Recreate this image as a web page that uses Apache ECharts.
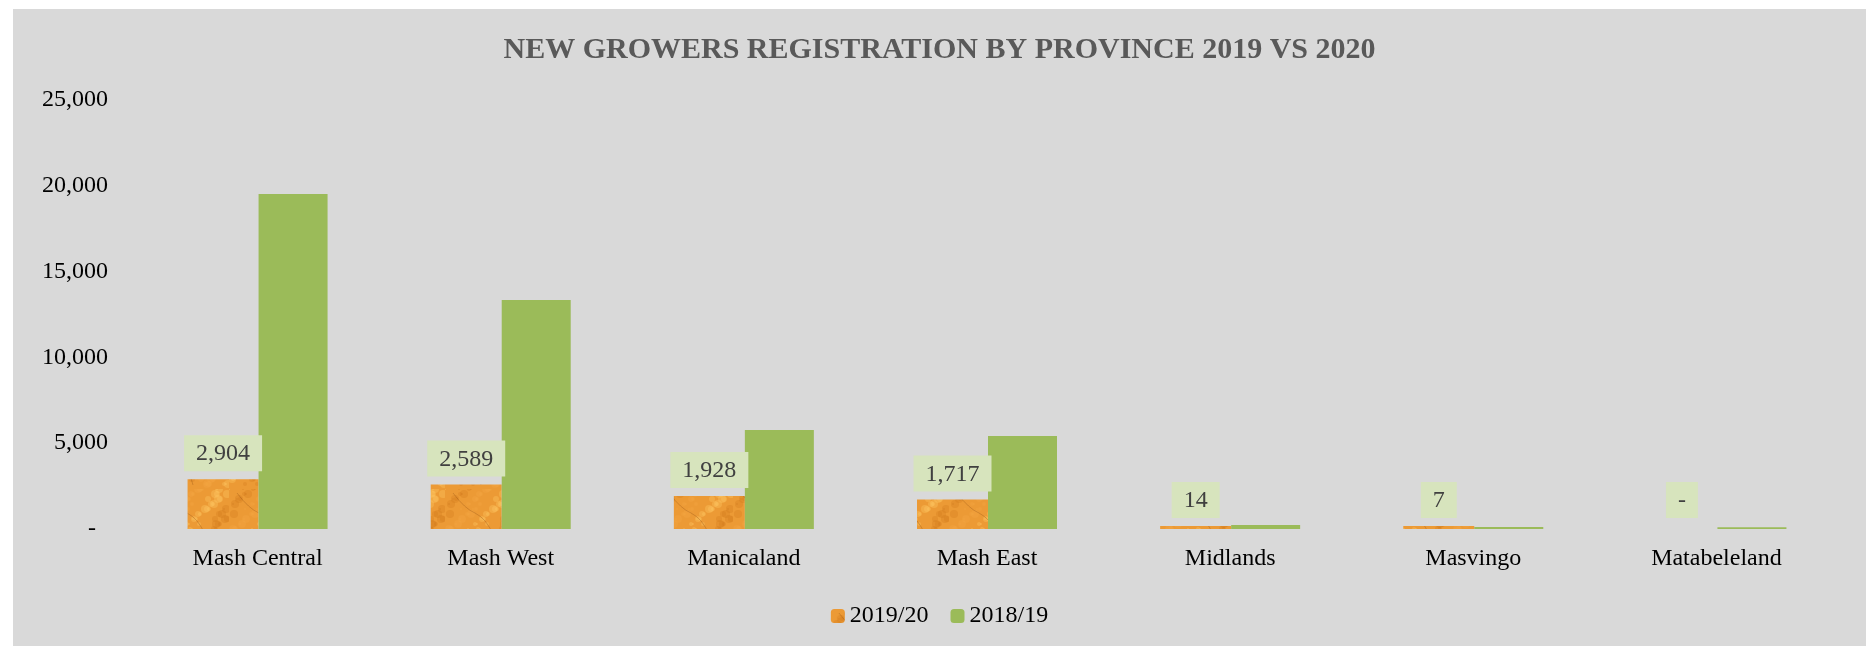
<!DOCTYPE html>
<html>
<head>
<meta charset="utf-8">
<title>New growers registration by province</title>
<script src="https://cdn.jsdelivr.net/npm/echarts@6/dist/echarts.min.js"></script>
<style>
  html, body { margin: 0; padding: 0; background: #fff; }
  #chart {
    position: absolute;
    left: 13px;
    top: 9px;
    width: 1853px;
    height: 637px;
    background: #d9d9d9;
  }
</style>
</head>
<body>
<div id="chart"></div>
<script>
const provinces = ['Mash Central', 'Mash West', 'Manicaland', 'Mash East', 'Midlands', 'Masvingo', 'Matabeleland'];
const growers2020 = [2904, 2589, 1928, 1717, 14, 7, 0];
const growers2019 = [19520, 13350, 5770, 5420, 230, 120, 100];
const yTicks = [0, 5000, 10000, 15000, 20000, 25000];

const FONT = "'Liberation Serif', 'DejaVu Serif', serif";

// orange "tobacco leaf" style texture for the 2019/20 bars
function makeLeafTexture() {
  const c = document.createElement('canvas');
  c.width = 72;
  c.height = 160;
  const ctx = c.getContext('2d');
  ctx.fillStyle = '#ec9a35';
  ctx.fillRect(0, 0, c.width, c.height);
  // mottled light / dark flecks
  for (let i = 0; i < 260; i++) {
    const x = (i * 29 + (i % 7) * 11) % c.width;
    const y = (i * 47 + (i % 5) * 13) % c.height;
    const r = 1 + (i % 4);
    ctx.fillStyle = i % 3 === 0 ? 'rgba(255,200,100,0.35)'
      : i % 3 === 1 ? 'rgba(205,115,25,0.25)' : 'rgba(245,170,70,0.3)';
    ctx.beginPath();
    ctx.arc(x, y, r, 0, Math.PI * 2);
    ctx.fill();
  }
  // thin wavy cracks
  ctx.strokeStyle = 'rgba(110,55,10,0.35)';
  ctx.lineWidth = 0.7;
  ctx.beginPath();
  ctx.moveTo(8, 4); ctx.quadraticCurveTo(20, 20, 30, 24); ctx.quadraticCurveTo(42, 30, 48, 46);
  ctx.moveTo(40, 70); ctx.quadraticCurveTo(55, 85, 60, 100); ctx.quadraticCurveTo(66, 112, 70, 130);
  ctx.moveTo(5, 110); ctx.quadraticCurveTo(14, 122, 26, 128); ctx.quadraticCurveTo(32, 140, 36, 156);
  ctx.stroke();
  return c;
}

function formatNumber(value) {
  if (!value) return '-  ';
  return Number(value).toLocaleString('en-US');
}

const chart = echarts.init(document.getElementById('chart'));
const leaf = { image: makeLeafTexture(), repeat: 'repeat' };

chart.setOption({
  backgroundColor: 'transparent',
  animation: false,
  title: {
    text: 'NEW GROWERS REGISTRATION BY PROVINCE 2019 VS 2020',
    left: 'center',
    top: 21,
    textStyle: {
      fontFamily: FONT,
      fontWeight: 'bold',
      fontSize: 30,
      color: '#595959'
    }
  },
  legend: {
    data: ['2019/20', '2018/19'],
    bottom: 13,
    left: 'center',
    itemWidth: 14,
    itemHeight: 14,
    itemGap: 22,
    textStyle: { fontFamily: FONT, fontSize: 24, color: '#000' }
  },
  grid: {
    left: 123,
    right: 28,
    top: 91,
    bottom: 117
  },
  xAxis: {
    type: 'category',
    data: provinces,
    axisLine: { show: false },
    axisTick: { show: false },
    axisLabel: {
      margin: 18,
      fontFamily: FONT,
      fontSize: 24,
      color: '#000'
    }
  },
  yAxis: {
    type: 'value',
    min: yTicks[0],
    max: yTicks[yTicks.length - 1],
    interval: yTicks[1] - yTicks[0],
    splitLine: { show: false },
    axisLine: { show: false },
    axisTick: { show: false },
    axisLabel: {
      margin: 28,
      fontFamily: FONT,
      fontSize: 24,
      color: '#000',
      formatter: value => formatNumber(value)
    }
  },
  series: [
    {
      name: '2019/20',
      type: 'bar',
      // zero values keep their "-" label but draw no bar
      data: growers2020.map(v => (v ? v : { value: v, itemStyle: { color: 'rgba(0,0,0,0)' } })),
      barWidth: 71,
      barGap: '0%',
      barMinHeight: 3,
      itemStyle: { color: leaf },
      label: {
        show: true,
        position: 'top',
        distance: 8,
        fontFamily: FONT,
        fontSize: 24,
        color: '#404040',
        backgroundColor: '#d7e4bd',
        padding: [7, 12, 5, 12],
        formatter: p => (p.value ? Number(p.value).toLocaleString('en-US') : '-')
      }
    },
    {
      name: '2018/19',
      type: 'bar',
      data: growers2019,
      barWidth: 69,
      itemStyle: { color: '#9bbb59' }
    }
  ]
});
</script>
</body>
</html>
